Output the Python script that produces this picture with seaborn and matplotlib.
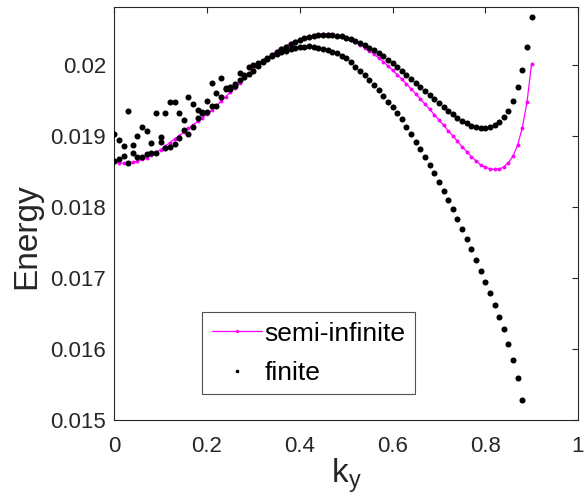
import matplotlib
matplotlib.use("Agg")
import matplotlib.pyplot as plt
from matplotlib.lines import Line2D
import numpy as np
import pandas as pd
import seaborn as sns

# momentum grid k_y
ky = [0.00, 0.01, 0.02, 0.03, 0.04, 0.05, 0.06, 0.07, 0.08, 0.09,
      0.10, 0.11, 0.12, 0.13, 0.14, 0.15, 0.16, 0.17, 0.18, 0.19,
      0.20, 0.21, 0.22, 0.23, 0.24, 0.25, 0.26, 0.27, 0.28, 0.29,
      0.30, 0.31, 0.32, 0.33, 0.34, 0.35, 0.36, 0.37, 0.38, 0.39,
      0.40, 0.41, 0.42, 0.43, 0.44, 0.45, 0.46, 0.47, 0.48, 0.49,
      0.50, 0.51, 0.52, 0.53, 0.54, 0.55, 0.56, 0.57, 0.58, 0.59,
      0.60, 0.61, 0.62, 0.63, 0.64, 0.65, 0.66, 0.67, 0.68, 0.69,
      0.70, 0.71, 0.72, 0.73, 0.74, 0.75, 0.76, 0.77, 0.78, 0.79,
      0.80, 0.81, 0.82, 0.83, 0.84, 0.85, 0.86, 0.87, 0.88, 0.89,
      0.90]

# edge-state energy of the semi-infinite system
semi_infinite = [
    0.018630, 0.018620, 0.018615, 0.018618, 0.018628, 0.018645, 0.018668, 0.018695, 0.018728, 0.018765,
    0.018808, 0.018855, 0.018905, 0.018955, 0.019005, 0.019055, 0.019105, 0.019155, 0.019205, 0.019255,
    0.019305, 0.019360, 0.019420, 0.019485, 0.019550, 0.019615, 0.019680, 0.019745, 0.019810, 0.019870,
    0.019930, 0.019990, 0.020045, 0.020095, 0.020145, 0.020190, 0.020230, 0.020268, 0.020302, 0.020332,
    0.020360, 0.020383, 0.020402, 0.020416, 0.020425, 0.020430, 0.020430, 0.020425, 0.020414, 0.020398,
    0.020376, 0.020350, 0.020318, 0.020282, 0.020242, 0.020198, 0.020150, 0.020098, 0.020043, 0.019985,
    0.019925, 0.019862, 0.019798, 0.019732, 0.019662, 0.019592, 0.019521, 0.019446, 0.019376, 0.019300,
    0.019225, 0.019151, 0.019075, 0.019000, 0.018925, 0.018849, 0.018779, 0.018708, 0.018648, 0.018592,
    0.018559, 0.018535, 0.018528, 0.018532, 0.018563, 0.018624, 0.018714, 0.018873, 0.019117, 0.019475,
    0.020018]

# finite slab: first edge-state branch
finite_a = [
    0.018640, 0.018676, 0.018720, 0.018615, 0.018765, 0.018708, 0.018700, 0.018742, 0.018756, 0.018765,
    0.018920, 0.018827, 0.018849, 0.018887, 0.018968, 0.019085, 0.019028, 0.019131, 0.019249, 0.019320,
    0.019329, 0.019423, 0.019423, 0.019554, 0.019658, 0.019690, 0.019735, 0.019780, 0.019830, 0.019875,
    0.019920, 0.019978, 0.020033, 0.020085, 0.020135, 0.020180, 0.020220, 0.020258, 0.020292, 0.020322,
    0.020350, 0.020373, 0.020392, 0.020406, 0.020415, 0.020420, 0.020421, 0.020418, 0.020411, 0.020400,
    0.020384, 0.020364, 0.020340, 0.020312, 0.020280, 0.020244, 0.020205, 0.020163, 0.020118, 0.020070,
    0.020020, 0.019968, 0.019914, 0.019857, 0.019799, 0.019742, 0.019686, 0.019630, 0.019573, 0.019517,
    0.019465, 0.019408, 0.019356, 0.019306, 0.019258, 0.019215, 0.019179, 0.019145, 0.019123, 0.019113,
    0.019113, 0.019127, 0.019155, 0.019201, 0.019263, 0.019356, 0.019497, 0.019686, 0.019930, 0.020258,
    0.020680]

# finite slab: second edge-state branch
finite_b = [
    0.019028, 0.018944, 0.018859, 0.019356, 0.018873, 0.019004, 0.019131, 0.019075, 0.018897, 0.019320,
    0.018990, 0.019320, 0.019483, 0.019483, 0.019320, 0.019225, 0.019545, 0.019451, 0.019366, 0.019329,
    0.019497, 0.019742, 0.019610, 0.019813, 0.019672, 0.019658, 0.019700, 0.019880, 0.019860, 0.019976,
    0.020000, 0.020020, 0.020060, 0.020095, 0.020125, 0.020150, 0.020175, 0.020198, 0.020218, 0.020235,
    0.020248, 0.020256, 0.020260, 0.020252, 0.020240, 0.020225, 0.020205, 0.020182, 0.020160, 0.020128,
    0.020094, 0.020040, 0.019972, 0.019920, 0.019853, 0.019789, 0.019712, 0.019640, 0.019563, 0.019483,
    0.019410, 0.019325, 0.019235, 0.019131, 0.019028, 0.018915, 0.018817, 0.018708, 0.018592, 0.018475,
    0.018356, 0.018230, 0.018103, 0.017972, 0.017830, 0.017690, 0.017548, 0.017403, 0.017248, 0.017098,
    0.016946, 0.016786, 0.016621, 0.016448, 0.016282, 0.016068, 0.015845, 0.015590, 0.015286, None,
    None]

x_ticks = [0, 0.2, 0.4, 0.6, 0.8, 1]
x_tick_labels = ["0", "0.2", "0.4", "0.6", "0.8", "1"]
y_ticks = [0.015, 0.016, 0.017, 0.018, 0.019, 0.020]
y_tick_labels = ["0.015", "0.016", "0.017", "0.018", "0.019", "0.02"]

sns.set_style("white")
plt.rcParams["font.family"] = ["Liberation Sans", "DejaVu Sans"]
ink = "#262626"

semi_df = pd.DataFrame({"ky": ky, "E": semi_infinite})
finite_df = pd.concat([
    pd.DataFrame({"ky": ky, "E": finite_a}),
    pd.DataFrame({"ky": ky, "E": finite_b}),
]).dropna()

fig = plt.figure(figsize=(5.85, 5.0), dpi=100)
ax = fig.add_axes([0.1954, 0.16, 0.7926, 0.8254])

sns.lineplot(data=semi_df, x="ky", y="E", ax=ax, color="#ff00ff",
             linewidth=0.9, marker="o", markersize=2.8, markeredgewidth=0,
             zorder=2)
sns.scatterplot(data=finite_df, x="ky", y="E", ax=ax, color="black",
                s=19, linewidth=0, zorder=3)

ax.set_xlim(0, 1)
ax.set_ylim(0.015, 0.02081)
ax.set_xticks(x_ticks)
ax.set_xticklabels(x_tick_labels)
ax.set_yticks(y_ticks)
ax.set_yticklabels(y_tick_labels)
ax.tick_params(direction="in", length=4, width=0.8, colors=ink,
               labelsize=16, top=True, right=True)
ax.tick_params(axis="y", pad=6)
ax.tick_params(axis="x", pad=11.5)
for sp in ax.spines.values():
    sp.set_visible(True)
    sp.set_color(ink)
    sp.set_linewidth(0.8)

ax.set_xlabel(r"$\mathregular{k_y}$", fontsize=24, color=ink, labelpad=0)
ax.set_ylabel("Energy", fontsize=24, color=ink)
ax.yaxis.set_label_coords(-0.155, 0.446)

handles = [
    Line2D([], [], color="#ff00ff", linewidth=0.9, marker="o",
           markersize=2.4, markeredgewidth=0),
    Line2D([], [], color="black", linestyle="none", marker="o",
           markersize=2.6, markeredgewidth=0),
]
leg = ax.legend(handles, ["semi-infinite", "finite"], loc="lower left",
                bbox_to_anchor=(0.19, 0.062), borderaxespad=0,
                fontsize=19, frameon=True, fancybox=False,
                handlelength=1.9, handletextpad=0.08, labelspacing=0.58,
                borderpad=0.36)
leg.get_frame().set_edgecolor(ink)
leg.get_frame().set_linewidth(0.8)
for t in leg.get_texts():
    t.set_color("black")

fig.savefig("out.png", dpi=100)
